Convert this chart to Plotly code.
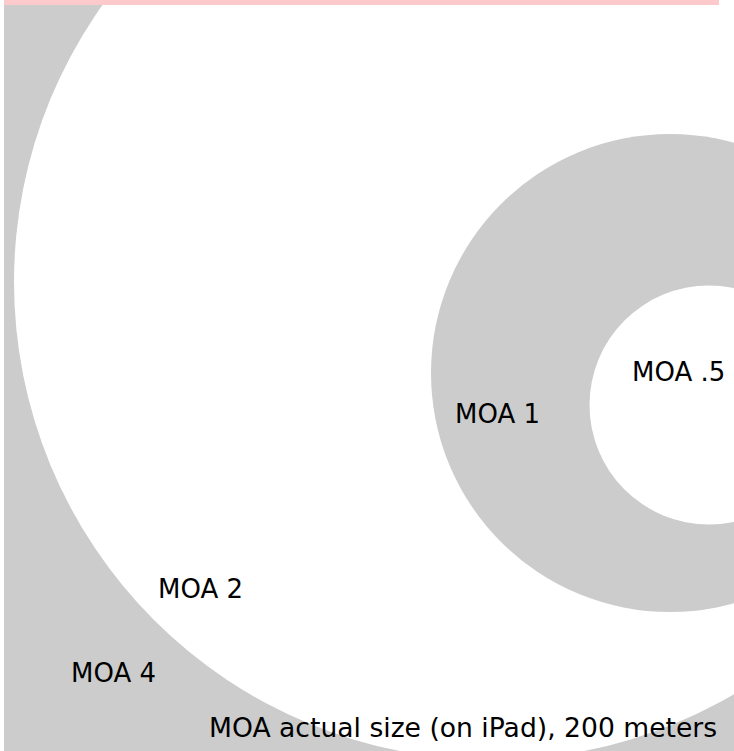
import plotly.graph_objects as go

# ---- data ----
moa_labels = ["MOA 4", "MOA 2", "MOA 1", "MOA .5"]
moa_values = [4, 2, 1, 0.5]
center_x = [492, 492, 670, 709]
center_y = [282, 282, 373, 405]
title_text = "MOA actual size (on iPad), 200 meters"

# ---- presentation ----
PX_PER_MOA = 239
fills = ["#cccccc", "#ffffff", "#cccccc", "#ffffff"]
label_pos = [(113.5, 672.5), (200.5, 589), (497.5, 413.5), (678, 371.5)]
FONT = "DejaVu Sans, Verdana, sans-serif"

W, H = 734, 751
fig = go.Figure()
# invisible trace to establish axes
fig.add_trace(go.Scatter(x=center_x, y=center_y, mode="markers",
                         marker=dict(opacity=0), hoverinfo="skip", showlegend=False))

shapes = []
for v, cx, cy, col in zip(moa_values, center_x, center_y, fills):
    r = v * PX_PER_MOA
    shapes.append(dict(type="circle", xref="x", yref="y",
                       x0=cx - r, x1=cx + r, y0=cy - r, y1=cy + r,
                       fillcolor=col, line=dict(width=0), layer="below"))
# pink notice strip at top
shapes.append(dict(type="rect", xref="paper", yref="paper",
                   x0=0, x1=(719 - 4) / (W - 4), y0=1 - 5 / H, y1=1.0,
                   fillcolor="#fccaca", line=dict(width=0), layer="above"))

annotations = []
for lab, (lx, ly) in zip(moa_labels, label_pos):
    annotations.append(dict(x=lx, y=ly, xref="x", yref="y", text=lab,
                            showarrow=False, xanchor="center", yanchor="middle",
                            font=dict(family=FONT, size=26, color="#000000")))
annotations.append(dict(x=462.5, y=727, xref="x", yref="y", text=title_text,
                        showarrow=False, xanchor="center", yanchor="middle",
                        font=dict(family=FONT, size=26.6, color="#000000")))

fig.update_layout(
    width=W, height=H,
    margin=dict(l=4, r=0, t=0, b=0),
    paper_bgcolor="white", plot_bgcolor="white",
    shapes=shapes, annotations=annotations,
    xaxis=dict(range=[4, W], visible=False, fixedrange=True),
    yaxis=dict(range=[H, 0], visible=False, fixedrange=True),
    showlegend=False,
)
fig.write_html("out.html", config={"displayModeBar": False},
               post_script="document.body.style.margin='0';document.body.style.overflow='hidden';")
